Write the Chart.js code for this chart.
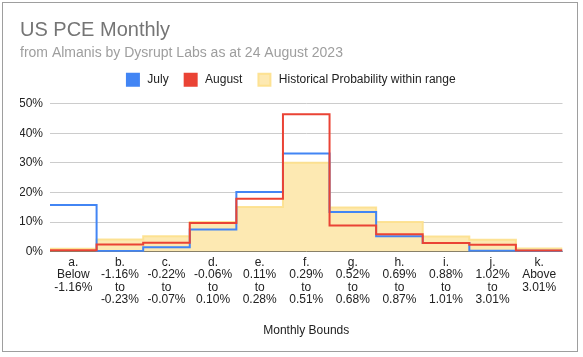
<!DOCTYPE html>
<html>
<head>
<meta charset="utf-8">
<script src="https://cdn.jsdelivr.net/npm/chart.js@4.4.0/dist/chart.umd.min.js"></script>
<style>
  html, body { margin: 0; padding: 0; background: #fff; }
  #wrap { position: relative; width: 583px; height: 357px; }
  #frame {
    position: absolute; left: 2px; top: 2px; width: 576px; height: 350px;
    border: 1px solid #9e9e9e; box-sizing: border-box; pointer-events: none;
  }
</style>
</head>
<body>
<div id="wrap">
  <canvas id="chart" width="583" height="357"></canvas>
  <div id="frame"></div>
</div>
<script>
// bucket labels (one line per array entry)
const bucketLabels = [
    ["a.", "Below", "-1.16%"],
    ["b.", "-1.16%", "to", "-0.23%"],
    ["c.", "-0.22%", "to", "-0.07%"],
    ["d.", "-0.06%", "to", "0.10%"],
    ["e.", "0.11%", "to", "0.28%"],
    ["f.", "0.29%", "to", "0.51%"],
    ["g.", "0.52%", "to", "0.68%"],
    ["h.", "0.69%", "to", "0.87%"],
    ["i.", "0.88%", "to", "1.01%"],
    ["j.", "1.02%", "to", "3.01%"],
    ["k.", "Above", "3.01%"]
];

// probabilities in %
const julyValues = [15.8, 0.2, 1.5, 7.5, 20.2, 33.2, 13.4, 5.2, 2.9, 0.3, 0.3];
const augustValues = [0.5, 2.4, 3.0, 9.7, 17.9, 46.5, 8.8, 5.9, 2.9, 2.3, 0.4];
const historicalValues = [1.0, 4.1, 5.2, 10.0, 15.1, 30.1, 14.9, 10.0, 5.1, 4.0, 1.1];

const yTicks = [0, 10, 20, 30, 40, 50];

const FONT = "'Liberation Sans', Arial, sans-serif";

// each bucket spans [i, i+1] on a hidden linear axis; repeat last value to close the step
function toSteps(values) {
    const pts = values.map((v, i) => ({ x: i, y: v }));
    pts.push({ x: values.length, y: values[values.length - 1] });
    return pts;
}

// extra room between the legend and the plot
const legendGap = {
    id: "legendGap",
    afterInit(chart) {
        const fit = chart.legend.fit;
        chart.legend.fit = function () {
            fit.call(this);
            this.height += 8;
        };
    }
};

const ctx = document.getElementById("chart");
new Chart(ctx, {
    type: "line",
    data: {
        labels: bucketLabels,
        datasets: [
            {
                label: "July",
                data: toSteps(julyValues),
                xAxisID: "xs",
                stepped: "before",
                borderColor: "#4285f4",
                backgroundColor: "#4285f4",
                borderWidth: 2,
                pointRadius: 0,
                fill: false,
                order: 2
            },
            {
                label: "August",
                data: toSteps(augustValues),
                xAxisID: "xs",
                stepped: "before",
                borderColor: "#ea4335",
                backgroundColor: "#ea4335",
                borderWidth: 2,
                pointRadius: 0,
                fill: false,
                order: 1
            },
            {
                label: "Historical Probability within range",
                data: toSteps(historicalValues),
                xAxisID: "xs",
                stepped: "before",
                borderColor: "rgba(253, 224, 140, 0.9)",
                backgroundColor: "#fde9b2",
                borderWidth: 2,
                pointRadius: 0,
                fill: "origin",
                order: 3
            }
        ]
    },
    plugins: [legendGap],
    options: {
        responsive: false,
        animation: false,
        layout: { padding: { left: 20, right: 20.5, top: 0, bottom: 19 } },
        plugins: {
            title: {
                display: true,
                text: "US PCE Monthly",
                align: "start",
                color: "#757575",
                font: { family: FONT, size: 20, weight: "normal" },
                padding: { top: 18, bottom: 0 }
            },
            subtitle: {
                display: true,
                text: "from Almanis by Dysrupt Labs as at 24 August 2023",
                align: "start",
                color: "#9e9e9e",
                font: { family: FONT, size: 14 },
                padding: { top: 3, bottom: -4 }
            },
            legend: {
                display: true,
                labels: {
                    color: "#222",
                    font: { family: FONT, size: 12 },
                    boxWidth: 12,
                    boxHeight: 12,
                    padding: 16,
                    sort: (a, b) => a.datasetIndex - b.datasetIndex,
                    // a thin space widens the gap between swatch and text
                    generateLabels: (chart) => Chart.defaults.plugins.legend.labels
                        .generateLabels(chart)
                        .map(item => Object.assign(item, { text: "\u2009" + item.text }))
                }
            },
            tooltip: { enabled: false }
        },
        scales: {
            x: {
                type: "category",
                offset: true,
                grid: { display: false, drawTicks: false },
                border: { display: false },
                ticks: {
                    color: "#222",
                    font: { family: FONT, size: 12, lineHeight: 1.02 },
                    padding: 5,
                    maxRotation: 0,
                    autoSkip: false
                },
                title: {
                    display: true,
                    text: "Monthly Bounds",
                    color: "#222",
                    font: { family: FONT, size: 12 },
                    padding: { top: 13, bottom: 0 }
                }
            },
            xs: {
                type: "linear",
                display: false,
                min: 0,
                max: bucketLabels.length
            },
            y: {
                min: yTicks[0],
                max: yTicks[yTicks.length - 1],
                afterFit: (scale) => { scale.width = 30; },
                afterBuildTicks: (scale) => { scale.ticks = yTicks.map(v => ({ value: v })); },
                grid: {
                    drawTicks: false,
                    color: (c) => c.tick && c.tick.value === 0 ? "#333" : "#cccccc"
                },
                border: { display: false },
                ticks: {
                    color: "#222",
                    font: { family: FONT, size: 12 },
                    padding: 7,
                    callback: (v) => v + "%"
                }
            }
        }
    }
});
</script>
</body>
</html>
